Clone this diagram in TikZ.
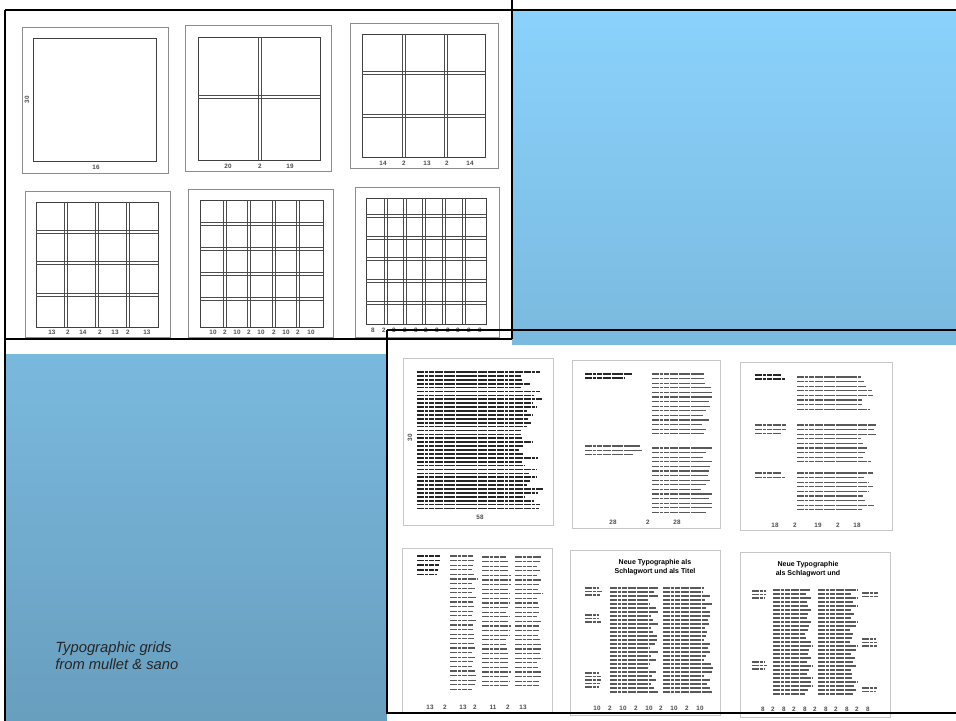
\documentclass[tikz,border=0pt]{standalone}
\usepackage{fontspec}
\setmainfont{Liberation Sans}
\definecolor{skytop}{RGB}{139,211,253}
\definecolor{skybot}{RGB}{104,158,190}
\tikzset{
  frm/.style = {draw=black, line width=1.5pt},
  pg/.style = {draw=black!45, line width=0.6pt},
  pgin/.style = {draw=black!75, line width=0.7pt},
  gut/.style = {draw=black!70, line width=0.5pt},
  bpg/.style = {draw=black!22, line width=0.6pt},
  txl/.style = {draw=black!65, line width=0.9pt,
    dash pattern=on 5pt off 0.5pt on 2.5pt off 0.5pt on 3.5pt off 0.5pt on 6pt off 0.5pt},
  hdl/.style = {txl, draw=black!85, line width=1.2pt},
  num/.style = {font=\fontsize{4.5}{4.5}\selectfont\bfseries, text=black!70, inner sep=0pt},
  ttl/.style = {font=\fontsize{5}{6.6}\selectfont\bfseries, align=center, inner sep=0pt},
  captxt/.style = {font=\fontsize{10.5}{12.3}\selectfont\itshape, align=left,
    text=black!85, anchor=west, inner sep=0pt}
}
% one grid page: outer box, inner box, column and row gutters
\newcommand{\gpage}[8]{%
  \draw[pg] (#1,#2) rectangle (#3,#4);
  \draw[pgin] (#5,#6) rectangle (#7,#8);}
\newcommand{\vgut}[3]{%
  \foreach \v in {#1} {
    \draw[gut] (\v-1.2,#2) -- (\v-1.2,#3);
    \draw[gut] (\v+1.2,#2) -- (\v+1.2,#3);}}
\newcommand{\hgut}[3]{%
  \foreach \h in {#1} {
    \draw[gut] (#2,\h-1.2) -- (#3,\h-1.2);
    \draw[gut] (#2,\h+1.2) -- (#3,\h+1.2);}}
% a block of text lines: x1, x2, y1, y2, line step, style
\newcommand{\tlines}[6]{%
  \pgfmathtruncatemacro\nl{(#4-#3)/#5}
  \foreach \i in {0,...,\nl} {
    \pgfmathsetmacro\ty{#3+\i*#5}
    \pgfmathsetmacro\tx{#1+(#2-#1)*(0.8+0.2*rnd)}
    \draw[#6] (#1,\ty) -- (\tx,\ty);}}

\begin{document}
\begin{tikzpicture}[x=0.025cm, y=-0.025cm]
  \pgfmathsetseed{7}
  \useasboundingbox (0,0) rectangle (956,721);
  \shade[top color=skytop, bottom color=skybot] (0,0) rectangle (956,721);
  \fill[white] (0,0) rectangle (956,10);
  \fill[white] (0,0) rectangle (5,721);
  \fill[white] (0,0) rectangle (512,354);
  \fill[white] (387,345) rectangle (956,721);

  \begin{scope}
    \gpage{22}{27}{168}{173}{33}{38}{156}{161}
    \node[num] (g1b) at (96,167) {16};
    \node[num, rotate=90] (g1l) at (27,100) {30};

    \gpage{185}{25}{331}{171}{198}{37}{320}{160}
    \vgut{260}{37}{160}
    \hgut{97}{198}{320}
    \foreach \lx/\lt in {228/20, 260/2, 290/19}
      \node[num] (g2-\lx) at (\lx,166) {\lt};

    \gpage{350}{23}{498}{168}{362}{34}{485}{157}
    \vgut{404, 446}{34}{157}
    \hgut{73, 116}{362}{485}
    \foreach \lx/\lt in {383/14, 404/2, 427/13, 447/2, 470/14}
      \node[num] (g3-\lx) at (\lx,163) {\lt};

    \gpage{25}{191}{170}{337}{36}{202}{158}{327}
    \vgut{66, 97, 128}{202}{327}
    \hgut{232, 263, 295}{36}{158}
    \foreach \lx/\lt in {52/13, 68/2, 83/14, 100/2, 115/13, 128/2, 147/13}
      \node[num] (g4-\lx) at (\lx,332) {\lt};

    \gpage{188}{189}{333}{337}{200}{200}{323}{327}
    \vgut{225, 249, 274, 298}{200}{327}
    \hgut{224, 249, 274, 299}{200}{323}
    \foreach \lx/\lt in {213/10, 225/2, 237/10, 249/2, 261/10, 274/2, 286/10, 298/2, 311/10}
      \node[num] (g5-\lx) at (\lx,332) {\lt};

    \gpage{355}{187}{499}{337}{366}{198}{486}{324}
    \vgut{386, 405, 424, 444, 464}{198}{324}
    \hgut{216, 238, 259, 281, 303}{366}{486}
    \foreach \lx/\lt in {373/8, 384/2, 394/8, 405/2, 416/8, 426/2, 437/8, 448/2, 458/8, 469/2, 480/8}
      \node[num] (g6-\lx) at (\lx,330) {\lt};
  \end{scope}

  \begin{scope}
    \draw[bpg] (403,358) rectangle (553,525);
    \tlines{417}{543}{372}{510}{3.9}{hdl}
    \node[num] (p1b) at (480,517) {58};
    \node[num, rotate=90] (p1l) at (410,438) {30};

    \draw[bpg] (572,360) rectangle (720,528);
    \tlines{585}{633}{374}{378}{4}{hdl}
    \tlines{652}{713}{374}{437}{4.6}{txl}
    \tlines{585}{643}{446}{455}{4.3}{txl}
    \tlines{652}{713}{448}{513}{4.6}{txl}
    \foreach \lx/\lt in {613/28, 648/2, 677/28}
      \node[num] (p2-\lx) at (\lx,522) {\lt};

    \draw[bpg] (740,362) rectangle (892,530);
    \tlines{755}{785}{375}{379}{4}{hdl}
    \tlines{797}{877}{377}{410}{4.6}{txl}
    \tlines{755}{787}{425}{434}{4.3}{txl}
    \tlines{797}{877}{425}{462}{4.6}{txl}
    \tlines{755}{787}{473}{478}{4.3}{txl}
    \tlines{797}{877}{473}{513}{4.6}{txl}
    \foreach \lx/\lt in {775/18, 795/2, 818/19, 838/2, 857/18}
      \node[num] (p3-\lx) at (\lx,525) {\lt};

    \draw[bpg] (402,548) rectangle (552,713);
    \tlines{417}{442}{556}{576}{4.6}{hdl}
    \tlines{450}{477}{556}{690}{4.6}{txl}
    \tlines{482}{512}{557}{690}{4.6}{txl}
    \tlines{515}{542}{557}{690}{4.6}{txl}
    \foreach \lx/\lt in {430/13, 445/2, 463/13, 475/2, 493/11, 508/2, 523/13}
      \node[num] (p4-\lx) at (\lx,707) {\lt};

    \draw[bpg] (570,550) rectangle (720,715);
    \node[ttl] (p5t) at (655,567.5) {Neue Typographie als\\Schlagwort und als Titel};
    \tlines{585}{602}{588}{597}{3.5}{txl}
    \tlines{585}{602}{615}{622}{3.5}{txl}
    \tlines{585}{602}{673}{690}{3.5}{txl}
    \tlines{610}{658}{588}{695}{4}{txl}
    \tlines{663}{713}{588}{695}{4}{txl}
    \foreach \lx/\lt in {597/10, 610/2, 623/10, 636/2, 649/10, 661/2, 674/10, 687/2, 700/10}
      \node[num] (p5-\lx) at (\lx,708) {\lt};

    \draw[bpg] (740,552) rectangle (890,717);
    \node[ttl] (p6t) at (808,569) {Neue Typographie\\als Schlagwort und};
    \tlines{752}{767}{591}{598}{3.5}{txl}
    \tlines{752}{767}{662}{672}{3.5}{txl}
    \tlines{773}{813}{590}{695}{4}{txl}
    \tlines{818}{858}{590}{695}{4}{txl}
    \tlines{862}{878}{593}{597}{3.5}{txl}
    \tlines{862}{878}{639}{648}{3.5}{txl}
    \tlines{862}{878}{688}{692}{3.5}{txl}
    \foreach \lx/\lt in {763/8, 773/2, 784/8, 794/2, 805/8, 815/2, 826/8, 836/2, 847/8, 857/2, 868/8}
      \node[num] (p6-\lx) at (\lx,709) {\lt};
  \end{scope}

  \draw[frm] (5,10) -- (956,10);
  \draw[frm] (5,10) -- (5,721);
  \draw[frm] (512,0) -- (512,339);
  \draw[frm] (5,339) -- (512,339);
  \draw[frm] (387,330) -- (956,330);
  \draw[frm] (387,330) -- (387,713) -- (956,713);

  \node[captxt] (cap) at (55,655.5) {Typographic grids\\from mullet \& sano};
\end{tikzpicture}
\end{document}
